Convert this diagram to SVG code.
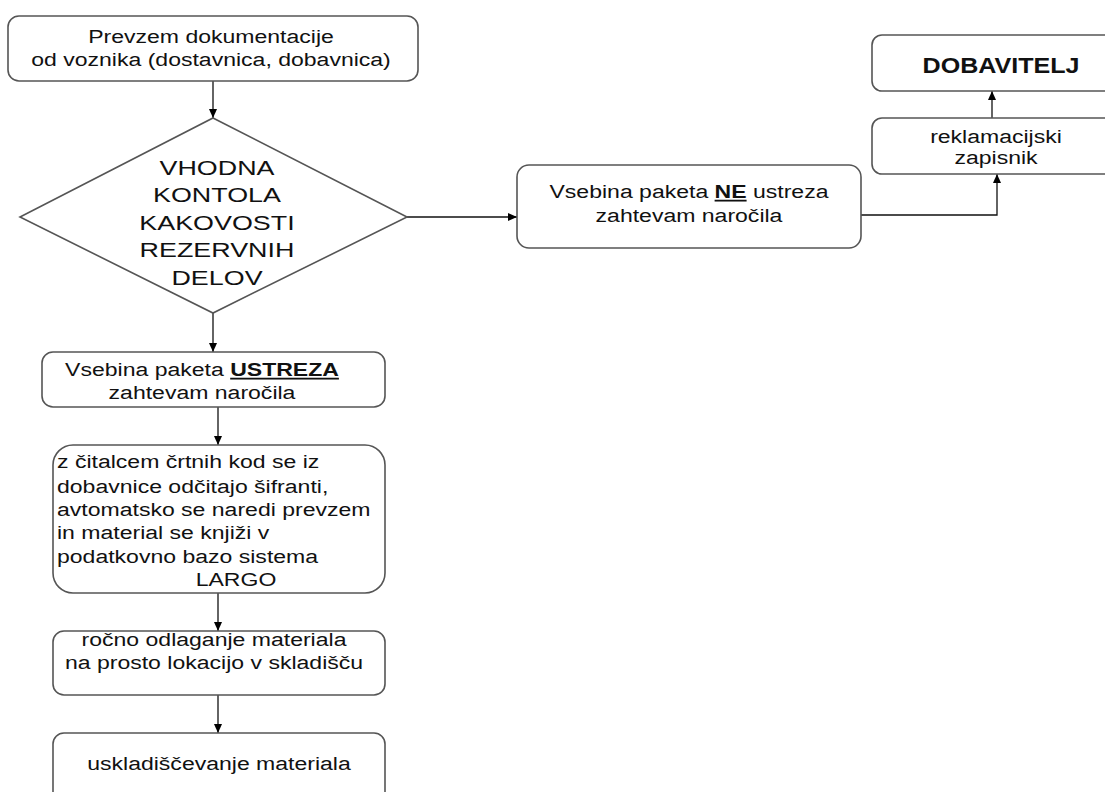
<svg xmlns="http://www.w3.org/2000/svg" width="1105" height="792" viewBox="0 0 1105 792">
<defs>
<marker id="arr" markerWidth="10" markerHeight="10" refX="9" refY="5" orient="auto" markerUnits="userSpaceOnUse"><path d="M0,1 L9,5 L0,9 z" fill="#000"/></marker>
<style>
.box{fill:#fff;stroke:#555;stroke-width:1.6}
.t{font-family:"Liberation Sans",Arial,sans-serif;font-size:18px;fill:#111}
.c{text-anchor:middle}
.d{font-size:21px}
.b{font-weight:bold;text-decoration:underline}
.con{fill:none;stroke:#111;stroke-width:1.3;marker-end:url(#arr)}
</style>
</defs>
<rect width="1105" height="792" fill="#fff"/>
<g id="connectors">
<path class="con" d="M213,81 V118"/>
<path class="con" d="M407,217 H517"/>
<path class="con" d="M213,313 V352"/>
<path class="con" d="M218,407 V445"/>
<path class="con" d="M218,593 V631"/>
<path class="con" d="M218,695 V733"/>
<path class="con" d="M861,215 H997 V174"/>
<path class="con" d="M992,118 V91"/>
</g>
<g id="n1">
<rect class="box" x="8" y="16" width="410" height="65" rx="11"/>
<g transform="translate(211 0) scale(1.28 1)">
<text class="t c" x="0" y="43">Prevzem dokumentacije</text>
<text class="t c" x="0" y="66">od voznika (dostavnica, dobavnica)</text>
</g>
</g>
<g id="decision">
<polygon class="box" points="213,118 407,217 213,313 20,217"/>
<g transform="translate(217 0) scale(1.28 1)">
<text class="t c d" x="0" y="175">VHODNA</text>
<text class="t c d" x="0" y="202">KONTOLA</text>
<text class="t c d" x="0" y="230">KAKOVOSTI</text>
<text class="t c d" x="0" y="257">REZERVNIH</text>
<text class="t c d" x="0" y="285">DELOV</text>
</g>
</g>
<g id="ne">
<rect class="box" x="517" y="165" width="344" height="83" rx="12"/>
<g transform="translate(689 0) scale(1.28 1)">
<text class="t c" x="0" y="198">Vsebina paketa <tspan class="b">NE</tspan> ustreza</text>
<text class="t c" x="0" y="222">zahtevam naročila</text>
</g>
</g>
<g id="reklamacija">
<rect class="box" x="872" y="118" width="250" height="56" rx="10"/>
<g transform="translate(996 0) scale(1.28 1)">
<text class="t c" x="0" y="143">reklamacijski</text>
<text class="t c" x="0" y="164">zapisnik</text>
</g>
</g>
<g id="dobavitelj">
<rect class="box" x="872" y="35" width="250" height="56" rx="10"/>
<g transform="translate(1001 0) scale(1.14 1)">
<text class="t c" style="font-size:22px;font-weight:bold" x="0" y="73">DOBAVITELJ</text>
</g>
</g>
<g id="ustreza">
<rect class="box" x="42" y="352" width="343" height="55" rx="11"/>
<g transform="translate(202 0) scale(1.28 1)">
<text class="t c" x="0" y="376">Vsebina paketa <tspan class="b">USTREZA</tspan></text>
<text class="t c" x="0" y="399">zahtevam naročila</text>
</g>
</g>
<g id="largo">
<rect class="box" x="53" y="445" width="332" height="148" rx="20"/>
<g transform="translate(57 0) scale(1.28 1)">
<text class="t" x="0" y="468">z čitalcem črtnih kod se iz</text>
<text class="t" x="0" y="493">dobavnice odčitajo šifranti,</text>
<text class="t" x="0" y="516">avtomatsko se naredi prevzem</text>
<text class="t" x="0" y="539">in material se knjiži v</text>
<text class="t" x="0" y="563">podatkovno bazo sistema</text>
</g>
<g transform="translate(236 0) scale(1.28 1)">
<text class="t c" x="0" y="586">LARGO</text>
</g>
</g>
<g id="rocno">
<rect class="box" x="53" y="631" width="332" height="64" rx="11"/>
<g transform="translate(214 0) scale(1.28 1)">
<text class="t c" x="0" y="646">ročno odlaganje materiala</text>
<text class="t c" x="0" y="669">na prosto lokacijo v skladišču</text>
</g>
</g>
<g id="skladiscenje">
<rect class="box" x="53" y="733" width="332" height="80" rx="11"/>
<g transform="translate(219 0) scale(1.28 1)">
<text class="t c" x="0" y="770">uskladiščevanje materiala</text>
</g>
</g>
</svg>
